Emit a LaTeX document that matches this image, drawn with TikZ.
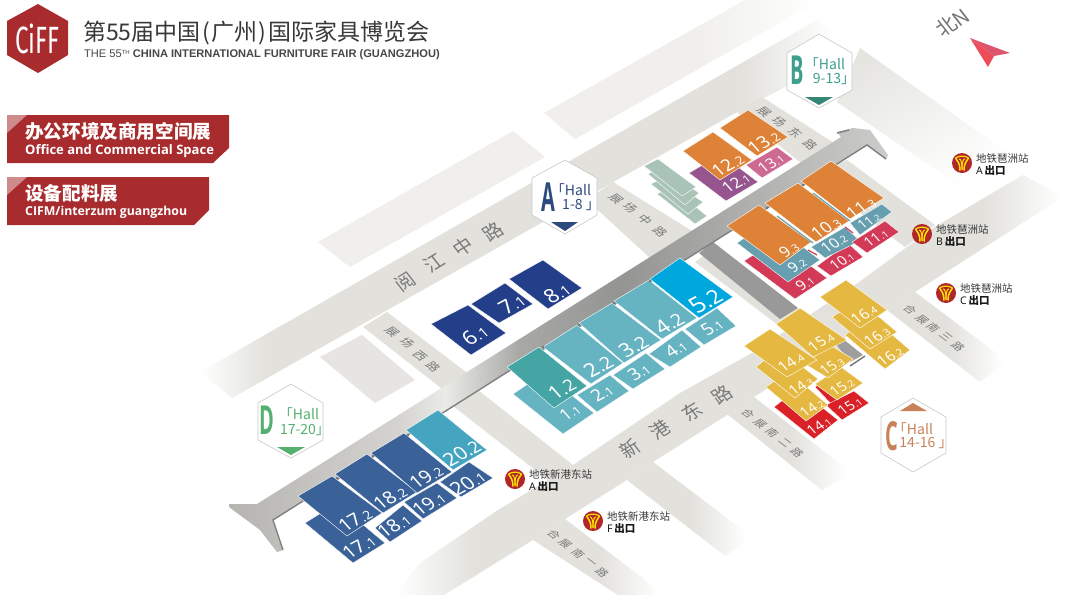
\documentclass[tikz,border=0pt]{standalone}
\usepackage{fontspec}
\setmainfont{Noto Sans}
\newfontfamily\cjk{Noto Sans CJK SC}
\newfontfamily\lib{Liberation Sans}
\newfontfamily\logof{Fira Sans}
\newfontfamily\opn{Open Sans}
\definecolor{roadc}{HTML}{E2E1DC}
\definecolor{blockc}{HTML}{F0EFEB}
\definecolor{cnavy}{HTML}{243F8A}
\definecolor{cteal}{HTML}{45A5A5}
\definecolor{caqua}{HTML}{66B3C2}
\definecolor{csky}{HTML}{00A7DC}
\definecolor{cblue}{HTML}{3A6299}
\definecolor{ccyan}{HTML}{45A4C0}
\definecolor{corange}{HTML}{DD8236}
\definecolor{cslate}{HTML}{689FB0}
\definecolor{crose}{HTML}{D33A57}
\definecolor{cpurple}{HTML}{96558F}
\definecolor{cpink}{HTML}{CC6A94}
\definecolor{cyell}{HTML}{E5B941}
\definecolor{cred}{HTML}{DA2128}
\definecolor{cgreen}{HTML}{A9C4B7}
\definecolor{brand}{HTML}{A82B2E}
\definecolor{hexA}{HTML}{2C4A7C}
\definecolor{hexB}{HTML}{3D9F8C}
\definecolor{hexC}{HTML}{C8825A}
\definecolor{hexD}{HTML}{55B070}
\pgfdeclarehorizontalshading{spineshade}{100bp}{rgb(0bp)=(.71,.706,.69);rgb(25bp)=(.71,.706,.69);rgb(38bp)=(.835,.83,.816);rgb(41.4bp)=(.92,.92,.905);rgb(47bp)=(.66,.66,.65);rgb(54.7bp)=(.58,.58,.573);rgb(63.8bp)=(.68,.68,.675);rgb(75bp)=(.8,.8,.79);rgb(100bp)=(.8,.8,.79)}
\pgfdeclarehorizontalshading{roadN}{100bp}{color(0bp)=(white);color(25bp)=(white);color(30bp)=(roadc);color(66bp)=(roadc);color(73bp)=(white);color(100bp)=(white)}
\pgfdeclarehorizontalshading{roadS}{100bp}{color(0bp)=(white);color(25bp)=(white);color(31bp)=(roadc);color(69bp)=(roadc);color(75bp)=(white);color(100bp)=(white)}
\pgfdeclarehorizontalshading{endfade}{100bp}{color(0bp)=(roadc);color(50bp)=(roadc);color(73bp)=(white);color(100bp)=(white)}
\pgfdeclarehorizontalshading{blockfade}{100bp}{color(0bp)=(blockc);color(52bp)=(blockc);color(75bp)=(white);color(100bp)=(white)}
\tikzset{
 hall/.style={fill=#1,draw=white,line width=.4pt},
 ne/.style={shift={(#1)},cm={.85,.52,-.62,.8,(0,0)},transform shape,inner sep=0pt},
 hne/.style={shift={(#1)},cm={.88,.47,-.66,.75,(0,0)},transform shape,inner sep=0pt},
 se/.style={shift={(#1)},cm={.8,-.6,.85,.5,(0,0)},transform shape,inner sep=0pt},
 hexbox/.style={fill=white,draw=black!22,line width=.6pt},
 roadtxt/.style={text=black!52,font=\cjk\fontsize{#1}{#1}\selectfont},
 dotmark/.style={fill=black!55}
}
\newcommand\hl[5]{\node[hne={#1-1,#2},text=white,font=\fontsize{#3}{#3}\selectfont] {\pgfmathsetmacro\sz{#3*.68}#4{\fontsize{\sz}{\sz}\selectfont #5}};}
\newcommand\hlb[5]{\node[hne={#1-1,#2},text=white,font=\fontsize{#3}{#3}\selectfont] {\pgfmathsetmacro\sz{#3*.88}#4{\fontsize{\sz}{\sz}\selectfont #5}};}
\newcommand\rdNE[4]{\node[ne={#1,#2},roadtxt=#3] {#4};}
\newcommand\rdSE[4]{\node[se={#1,#2},roadtxt=#3] {#4};}
\newcommand\metro[4]{%
 \begin{scope}[shift={(#1,#2)}]
  \fill[fill=brand!90!red] (0,0) circle (10);
  \draw[draw=yellow!85!orange,line width=1.5pt] (-6.5,-5) .. controls (-4.5,-1) and (-2.2,-1) .. (-2,7.5);
  \draw[draw=yellow!85!orange,line width=1.5pt] (6.5,-5) .. controls (4.5,-1) and (2.2,-1) .. (2,7.5);
  \draw[draw=yellow!85!orange,line width=1.2pt] (-6.5,-5) .. controls (-3,-7.5) and (3,-7.5) .. (6.5,-5);
  \draw[draw=yellow!85!orange,line width=1pt] (-3,-4) .. controls (-1.5,-4) and (0,-2.5) .. (0,7);
  \draw[draw=yellow!85!orange,line width=1pt] (3,-4) .. controls (1.5,-4) and (0,-2.5) .. (0,7);
 \end{scope}
 \node[anchor=west,inner sep=0pt,text=black!78,font=\cjk\fontsize{10.5}{10.5}\selectfont] at (#1+14,#2-5) {#3};
 \node[anchor=west,inner sep=0pt,text=black!90,font=\fontsize{10.5}{10.5}\selectfont] at (#1+14,#2+8) {#4\,{\cjk\bfseries 出口}};
}
\begin{document}
\begin{tikzpicture}[x=1pt,y=-1pt]
\useasboundingbox (0,0) rectangle (1068,595);
\fill[white] (0,0) rectangle (1068,595);
% blocks
\shade[shading=blockfade] (544,113) -- (745,0) -- (820,0) -- (575,139) -- cycle;
\fill[blockc] (318,242) -- (513,131) -- (545,157) -- (350,267) -- cycle;
\fill[roadc!85!white] (320,357) -- (362,335) -- (415,380) -- (375,403) -- cycle;
\shade[left color=roadc!85!white,right color=white,shading angle=30] (837,102) -- (963,188) -- (1015,158) -- (860,48) -- cycle;
% roads
\shade[shading=roadN] (200,372) -- (817,20) -- (860,48) -- (737,112) -- (232,398) -- cycle;
\fill[roadc] (363,327) -- (387,312) -- (470,375) -- (450,395) -- cycle;
\fill[roadc] (587,200) -- (613,182) -- (697,234) -- (650,258) -- cycle;
\fill[roadc] (737,112) -- (762,97) -- (845,150) -- (810,170) -- cycle;
\fill[roadc] (847,160) -- (935,225) -- (905,247) -- (810,175) -- cycle;
\fill[roadc] (453,406) -- (478,390) -- (573,465) -- (548,480) -- cycle;
\shade[shading=roadS] (1023,175) -- (933,228) -- (855,285) -- (752,353) -- (680,393) -- (573,465) -- (548,480) -- (498,510) -- (420,563) -- (395,595) -- (444,595) -- (533,540) -- (565,519) -- (627,480) -- (653,462) -- (727,415) -- (754,397) -- (915,292) -- (1063,197) -- cycle;
\shade[shading=endfade] (533,540) -- (565,519) -- (665,595) -- (618,595) -- cycle;
\shade[shading=endfade] (627,480) -- (653,462) -- (752,537) -- (725,556) -- cycle;
\shade[shading=endfade] (727,414) -- (754,397) -- (852,473) -- (822,490) -- cycle;
\shade[shading=endfade] (887,310) -- (915,292) -- (1008,362) -- (980,382) -- cycle;
% branch of the spine
\fill[roadc] (695,262) -- (712,250) -- (850,345) -- (825,362) -- (778,325) -- cycle;
\fill[black!40] (699,253) -- (713,242) -- (798,308) -- (780,319) -- cycle;
\fill[black!38] (835,343) -- (843,339) -- (863,355) -- (850,362) -- cycle;
\draw[black!55,line width=1.4pt] (850,366) -- (865,356);
% spine
\shade[shading=spineshade] (229,504) -- (257,504) -- (841,137) -- (837,132) -- (853,128) -- (870,130) -- (888,155) -- (886,159) -- (867,145) -- (273,520) -- (283,550) -- (277,552) -- (260,530) -- (229,507) -- cycle;
\draw[black!50,line width=1.4pt] (886,159) -- (867,145) -- (273,520) -- (283,550);
\draw[black!50,line width=1.4pt] (837,133) -- (849,130);
% halls
\fill[hall=cnavy] (431,324) -- (468,305) -- (506,333) -- (471,355) -- cycle;
\fill[hall=cnavy] (471,304) -- (505,283) -- (533,304) -- (499,323) -- cycle;
\fill[hall=cnavy] (509,279) -- (543,260) -- (582,288) -- (548,309) -- cycle;
\fill[hall=caqua] (513,394) -- (544,373) -- (594,413) -- (563,434) -- cycle;
\fill[hall=cteal] (507,367) -- (539,347) -- (587,386) -- (554,408) -- cycle;
\fill[hall=caqua] (543,347) -- (577,325) -- (623,363) -- (591,384) -- cycle;
\fill[hall=caqua] (577,395) -- (610,375) -- (629,391) -- (597,412) -- cycle;
\fill[hall=caqua] (579,323) -- (612,303) -- (661,340) -- (624,363) -- cycle;
\fill[hall=caqua] (613,375) -- (646,353) -- (665,369) -- (633,389) -- cycle;
\fill[hall=caqua] (614,301) -- (649,280) -- (697,318) -- (662,339) -- cycle;
\fill[hall=caqua] (649,354) -- (682,330) -- (701,347) -- (670,367) -- cycle;
\fill[hall=caqua] (685,329) -- (717,308) -- (736,326) -- (704,345) -- cycle;
\fill[hall=csky] (650,279) -- (680,258) -- (733,297) -- (699,318) -- cycle;
\fill[hall=cblue] (305,523) -- (337,503) -- (385,543) -- (353,563) -- cycle;
\fill[hall=cblue] (298,496) -- (332,476) -- (382,513) -- (347,536) -- cycle;
\fill[hall=cblue] (375,528) -- (403,505) -- (422,521) -- (390,542) -- cycle;
\fill[hall=cblue] (335,474) -- (367,454) -- (417,492) -- (383,513) -- cycle;
\fill[hall=cblue] (371,453) -- (404,433) -- (452,472) -- (417,493) -- cycle;
\fill[hall=cblue] (404,502) -- (437,483) -- (457,498) -- (423,519) -- cycle;
\fill[hall=cblue] (440,482) -- (469,462) -- (493,478) -- (461,497) -- cycle;
\fill[hall=ccyan] (406,430) -- (438,410) -- (487,450) -- (453,470) -- cycle;
% 9-11
\fill[hall=crose] (744,261) -- (776,240) -- (827,278) -- (795,299) -- cycle;
\fill[hall=cslate] (737,243) -- (769,221) -- (820,260) -- (788,282) -- cycle;
\fill[hall=corange] (727,226) -- (759,205) -- (811,242) -- (780,265) -- cycle;
\fill[hall=crose] (817,266) -- (848,243) -- (863,257) -- (831,276) -- cycle;
\fill[hall=cslate] (811,247) -- (845,227) -- (860,241) -- (825,258) -- cycle;
\fill[hall=corange] (765,203) -- (798,183) -- (849,221) -- (816,242) -- cycle;
\fill[hall=crose] (852,242) -- (885,221) -- (899,232) -- (867,253) -- cycle;
\fill[hall=cslate] (850,223) -- (882,204) -- (892,212) -- (860,235) -- cycle;
\fill[hall=corange] (801,181) -- (831,161) -- (884,198) -- (850,219) -- cycle;
\draw[cslate,line width=1.2pt] (777,216) -- (813,243);
\draw[cslate,line width=1.2pt] (813,193) -- (850,221);
\draw[crose,line width=1.2pt] (808,250) -- (817,255);
\draw[crose,line width=1.2pt] (845,227) -- (853,233);
% 12-13
\fill[hall=cpurple] (689,173) -- (721,154) -- (758,182) -- (726,201) -- cycle;
\fill[hall=corange] (683,151) -- (713,132) -- (752,160) -- (720,180) -- cycle;
\fill[hall=cpink] (746,165) -- (777,147) -- (793,159) -- (762,178) -- cycle;
\fill[hall=corange] (720,128) -- (748,110) -- (788,137) -- (757,156) -- cycle;
% green blocks
\fill[hall=cgreen] (657,194) -- (671,187) -- (707,216) -- (695,224) -- cycle;
\fill[hall=cgreen] (651,184) -- (665,177) -- (703,202) -- (688,214) -- cycle;
\fill[hall=cgreen] (648,174) -- (662,167) -- (699,193) -- (685,205) -- cycle;
\fill[hall=cgreen] (644,166) -- (658,159) -- (696,187) -- (682,196) -- cycle;
% 14-16
\fill[hall=cred] (815,387) -- (822,382) -- (845,400) -- (835,408) -- cycle;
\fill[hall=cred] (826,405) -- (854,391) -- (869,403) -- (842,420) -- cycle;
\fill[hall=cred] (774,407) -- (798,388) -- (838,420) -- (814,439) -- cycle;
\fill[hall=cyell] (815,384) -- (841,367) -- (863,383) -- (837,400) -- cycle;
\fill[hall=cyell] (766,387) -- (788,371) -- (828,405) -- (806,421) -- cycle;
\fill[hall=cyell] (805,364) -- (830,345) -- (853,359) -- (828,378) -- cycle;
\fill[hall=cyell] (756,367) -- (779,348) -- (818,379) -- (795,398) -- cycle;
\fill[hall=cyell] (744,346) -- (770,329) -- (817,360) -- (787,377) -- cycle;
\fill[hall=cyell] (776,324) -- (800,308) -- (847,340) -- (813,357) -- cycle;
\fill[hall=cyell] (845,335) -- (870,316) -- (910,350) -- (885,369) -- cycle;
\fill[hall=cyell] (832,317) -- (859,300) -- (897,332) -- (870,349) -- cycle;
\fill[hall=cyell] (820,297) -- (846,280) -- (887,310) -- (860,328) -- cycle;
% small marks at the spine
\foreach \p in {(543,347),(579,325),(614,303),(650,281),(337,478),(373,456),(408,435),(767,208),(803,185)}
  \fill[dotmark] \p circle (1.4);
% hall numbers
\hl{476}{335}{21}{6}{.1}
\hl{513}{304}{21}{7}{.1}
\hl{558}{293}{21}{8}{.1}
\hlb{563}{389}{20}{1}{.2}
\hl{571}{412}{17}{1}{.1}
\hlb{600}{366}{21}{2}{.2}
\hl{603}{393}{18}{2}{.1}
\hlb{635}{346}{21}{3}{.2}
\hl{640}{372}{18}{3}{.1}
\hlb{671}{323}{21}{4}{.2}
\hl{677}{349}{18}{4}{.1}
\hlb{707}{301}{24}{5}{.2}
\hl{713}{327}{18}{5}{.1}
\hl{356}{520}{19}{17}{.2}
\hl{360}{547}{19}{17}{.1}
\hl{391}{498}{19}{18}{.2}
\hl{395}{526}{19}{18}{.1}
\hl{427}{477}{19}{19}{.2}
\hl{430}{504}{19}{19}{.1}
\hlb{463}{453}{20}{20}{.2}
\hl{469}{483}{20}{20}{.1}
\hl{790}{250}{16}{9}{.3}
\hl{798}{265}{15}{9}{.2}
\hl{806}{283}{15}{9}{.1}
\hl{827}{228}{17}{10}{.3}
\hl{835}{243}{15}{10}{.2}
\hl{843}{261}{14}{10}{.1}
\hl{862}{208}{17}{11}{.3}
\hl{870}{221}{13}{11}{.2}
\hl{877}{238}{14}{11}{.1}
\hl{729}{165}{18}{12}{.2}
\hl{737}{183}{16}{12}{.1}
\hl{765}{142}{18}{13}{.2}
\hl{772}{163}{15}{13}{.1}
\hl{792}{362}{15}{14}{.4}
\hl{802}{386}{14}{14}{.3}
\hl{813}{408}{14}{14}{.2}
\hl{820}{426}{14}{14}{.1}
\hl{822}{342}{15}{15}{.4}
\hl{833}{366}{14}{15}{.3}
\hl{843}{387}{14}{15}{.2}
\hl{851}{406}{14}{15}{.1}
\hl{865}{314}{15}{16}{.4}
\hl{878}{336}{15}{16}{.3}
\hl{891}{356}{15}{16}{.2}
% road labels
\rdNE{405}{282}{19}{阅}
\rdNE{434}{263}{19}{江}
\rdNE{463}{247}{19}{中}
\rdNE{493}{232}{19}{路}
\rdNE{630}{449}{19}{新}
\rdNE{660}{430}{19}{港}
\rdNE{692}{412}{19}{东}
\rdNE{722}{395}{19}{路}
\rdSE{392}{332}{12}{展}
\rdSE{407}{343}{12}{场}
\rdSE{420}{356}{12}{西}
\rdSE{433}{367}{12}{路}
\rdSE{616}{199}{12}{展}
\rdSE{630}{208}{12}{场}
\rdSE{645}{220}{12}{中}
\rdSE{660}{232}{12}{路}
\rdSE{764}{112}{12}{展}
\rdSE{779}{122}{12}{场}
\rdSE{795}{133}{12}{东}
\rdSE{810}{145}{12}{路}
\rdSE{910}{310}{11}{合}
\rdSE{922}{320}{11}{展}
\rdSE{933}{328}{11}{南}
\rdSE{946}{337}{11}{三}
\rdSE{958}{347}{11}{路}
\rdSE{748}{414}{11}{合}
\rdSE{760}{424}{11}{展}
\rdSE{772}{433}{11}{南}
\rdSE{785}{443}{11}{二}
\rdSE{797}{453}{11}{路}
\rdSE{554}{535}{11}{合}
\rdSE{565}{544}{11}{展}
\rdSE{578}{554}{11}{南}
\rdSE{590}{563}{11}{一}
\rdSE{602}{573}{11}{路}
% hex badges
\filldraw[hexbox] (565,160) -- (597,178) -- (597,215) -- (565,234) -- (532,215) -- (532,178) -- cycle;
\fill[hexA] (551,222) -- (578,222) -- (565,231) -- cycle;
\node[text=hexA,inner sep=0pt,font=\opn\bfseries\fontsize{40}{40}\selectfont] at (548,197) {\scalebox{.5}[1]{A}};
\node[text=hexA,inner sep=0pt,font=\cjk\fontsize{14}{14}\selectfont] at (571,190) {「Hall};
\node[text=hexA,inner sep=0pt,font=\cjk\fontsize{14}{14}\selectfont] at (581,205) {1-8 」};
\filldraw[hexbox] (819,34) -- (852,53) -- (852,90) -- (819,108) -- (787,90) -- (787,53) -- cycle;
\fill[hexB!85!black] (805,97) -- (833,97) -- (819,105) -- cycle;
\node[text=hexB,inner sep=0pt,font=\opn\bfseries\fontsize{40}{40}\selectfont] at (797,70) {\scalebox{.5}[1]{B}};
\node[text=hexB,inner sep=0pt,font=\cjk\fontsize{14}{14}\selectfont] at (825,64) {「Hall};
\node[text=hexB,inner sep=0pt,font=\cjk\fontsize{14}{14}\selectfont] at (834,79) {9-13」};
\filldraw[hexbox] (913,398) -- (946,417) -- (946,453) -- (913,472) -- (881,453) -- (881,417) -- cycle;
\fill[hexC] (900,411) -- (927,411) -- (913,403) -- cycle;
\node[text=hexC,inner sep=0pt,font=\opn\bfseries\fontsize{40}{40}\selectfont] at (892,436) {\scalebox{.5}[1]{C}};
\node[text=hexC,inner sep=0pt,font=\cjk\fontsize{14}{14}\selectfont] at (913,429) {「Hall};
\node[text=hexC,inner sep=0pt,font=\cjk\fontsize{14}{14}\selectfont] at (926,443) {14-16 」};
\filldraw[hexbox] (291,384) -- (323,403) -- (323,440) -- (291,458) -- (258,440) -- (258,403) -- cycle;
\fill[hexD] (277,447) -- (305,447) -- (291,455) -- cycle;
\node[text=hexD,inner sep=0pt,font=\opn\bfseries\fontsize{40}{40}\selectfont] at (267,420) {\scalebox{.5}[1]{D}};
\node[text=hexD,inner sep=0pt,font=\cjk\fontsize{14}{14}\selectfont] at (299,414) {「Hall};
\node[text=hexD,inner sep=0pt,font=\cjk\fontsize{14}{14}\selectfont] at (305,430) {17-20」};
% metro
\metro{962}{163}{地铁琶洲站}{A}
\metro{922}{234}{地铁琶洲站}{B}
\metro{946}{293}{地铁琶洲站}{C}
\metro{515}{479}{地铁新港东站}{A}
\metro{593}{521}{地铁新港东站}{F}
% north arrow
\fill[fill=crose!80!pink] (970,38) -- (1010,53) -- (994,56) -- cycle;
\fill[fill=red!45!crose!80!white] (970,38) -- (994,56) -- (988,67) -- cycle;
\node[ne={952,23},text=black!55,font=\cjk\fontsize{20}{20}\selectfont] {北N};
% header
\fill[brand] (38,4) -- (68,21) -- (68,55) -- (38,73) -- (7,55) -- (7,21) -- cycle;
\node[text=white,inner sep=0pt,font=\logof\fontsize{38}{38}\selectfont] at (37.5,38.5) {\scalebox{.64}[1]{CiFF}};
\node[anchor=west,inner sep=0pt,text=black!78,font=\cjk\fontsize{23}{23}\selectfont] at (83,33) {第55届中国\hspace{2pt}(\hspace{1pt}广州\hspace{1pt})\hspace{2pt}国际家具博览会};
\node[anchor=west,inner sep=0pt,text=black!72,font=\lib\fontsize{11.1}{11.1}\selectfont] at (84,55) {THE 55\raisebox{3pt}{\fontsize{6}{6}\selectfont TH} \bfseries CHINA INTERNATIONAL FURNITURE FAIR (GUANGZHOU)};
% banners
\fill[brand] (7,115) -- (229,115) -- (229,148) -- (213,163) -- (7,163) -- cycle;
\fill[brand!55!white] (7,115) -- (27,115) -- (7,133) -- cycle;
\node[anchor=west,inner sep=0pt,text=white,font=\cjk\bfseries\fontsize{18.6}{18.6}\selectfont] at (25,131) {办公环境及商用空间展};
\node[anchor=west,inner sep=0pt,text=white,font=\opn\bfseries\fontsize{13}{13}\selectfont] at (25,151) {Office and Commercial Space};
\fill[brand] (7,177) -- (209,177) -- (209,210) -- (194,225) -- (7,225) -- cycle;
\fill[brand!55!white] (7,177) -- (27,177) -- (7,195) -- cycle;
\node[anchor=west,inner sep=0pt,text=white,font=\cjk\bfseries\fontsize{18.6}{18.6}\selectfont] at (25,193) {设备配料展};
\node[anchor=west,inner sep=0pt,text=white,font=\opn\bfseries\fontsize{12.3}{12.3}\selectfont] at (25,212) {CIFM/interzum guangzhou};
\end{tikzpicture}
\end{document}
